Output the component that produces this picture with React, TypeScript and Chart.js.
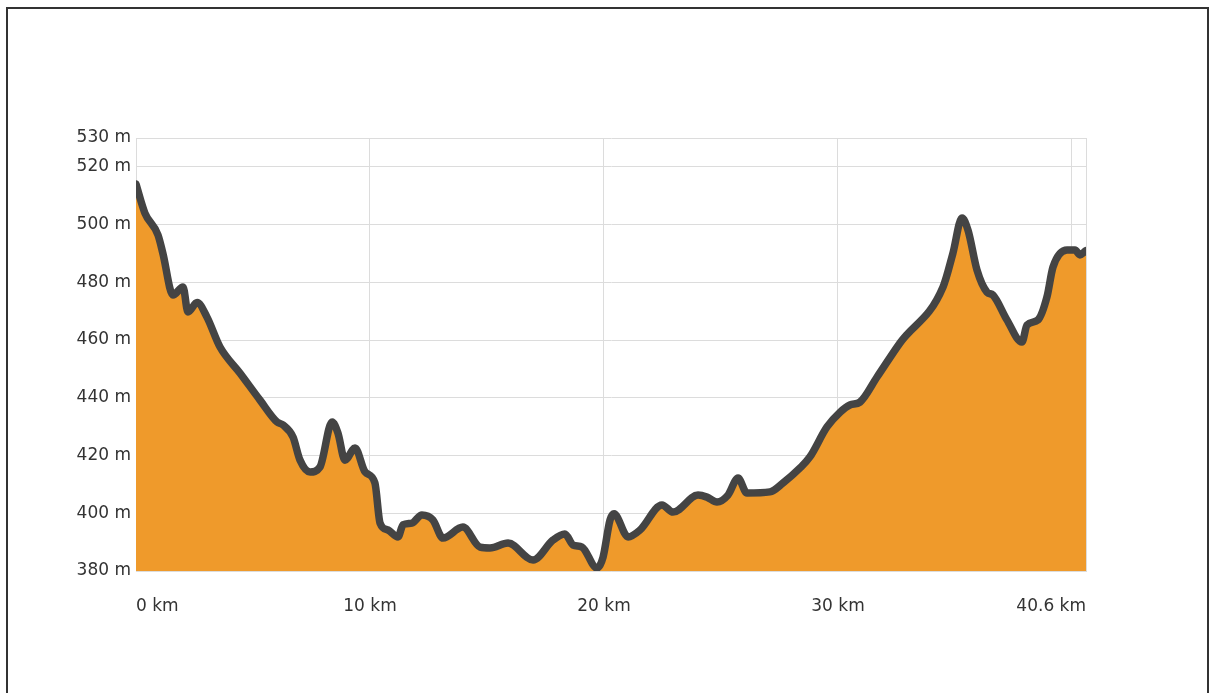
import React, { useEffect, useRef } from "react";
import { Chart, registerables } from "chart.js";

Chart.register(...registerables);

const distanceKm: number[] = [
  0.0, 0.38, 0.94, 1.15, 1.58, 2.01, 2.22, 2.61, 3.03, 3.59, 4.44, 5.3, 6.03, 6.28, 6.71, 7.01,
  7.44, 7.86, 8.38, 8.63, 8.93, 9.36, 9.79, 10.21, 10.43, 10.77, 11.2, 11.41, 11.79, 12.22, 12.69,
  13.12, 13.97, 14.7, 15.13, 15.9, 16.97, 17.82, 18.33, 18.68, 19.06, 19.7, 19.96, 20.26, 20.43,
  21.03, 21.54, 22.48, 22.95, 24.02, 24.4, 24.83, 25.3, 25.73, 26.11, 27.09, 27.65, 28.38, 28.8,
  29.53, 30.09, 30.51, 30.94, 31.67, 32.65, 34.49, 34.91, 35.3, 35.56, 35.94, 36.37, 36.62, 37.22,
  37.86, 38.08, 38.55, 38.93, 39.19, 39.79, 40.13, 40.34, 40.6,
];

const elevationM: number[] = [
  514, 504, 496.4, 490, 475.6, 478.4, 469.7, 473, 468, 457.6, 448.6, 439.2, 431.6, 430.6, 426.4, 418.4,
  414.3, 416, 431.6, 427.8, 418.4, 422.6, 414.3, 410.5, 396.6, 394.2, 391.8, 396, 396.6, 399.4, 397.7,
  391.4, 395.2, 388.3, 388, 389.7, 383.8, 390.7, 392.8, 389, 388.3, 381, 384.8, 397.7, 399.8,
  391.8, 394.2, 402.9, 400.4, 406.3, 405.6, 403.9, 406.3, 412.2, 407, 407.4, 410.5, 415.7, 419.5,
  429.9, 435, 437.5, 438.5, 447.2, 459, 478.4, 490, 502.3, 498, 484.3, 476.6, 475.6, 467,
  459.3, 465.2, 467, 474.9, 485.3, 491.2, 491.2, 489.5, 491,
];

const xTickValues: number[] = [0, 10, 20, 30, 40, 40.6];
const xTickLabels: string[] = ["0 km", "10 km", "20 km", "30 km", "", "40.6 km"];
const yTickValues: number[] = [380, 400, 420, 440, 460, 480, 500, 520, 530];

export default function App() {
  const canvasRef = useRef<HTMLCanvasElement | null>(null);

  useEffect(() => {
    const canvas = canvasRef.current;
    if (!canvas) return;
    const font = { family: "'DejaVu Sans', Verdana, sans-serif", size: 17 };
    const chart = new Chart(canvas, {
      type: "line",
      data: {
        datasets: [
          {
            data: distanceKm.map((x, i) => ({ x, y: elevationM[i] })),
            borderColor: "#444444",
            backgroundColor: "#ef9a2b",
            borderWidth: 7.5,
            fill: "start",
            pointRadius: 0,
            cubicInterpolationMode: "monotone",
            borderJoinStyle: "round",
            borderCapStyle: "round",
          },
        ],
      },
      options: {
        animation: false,
        responsive: false,
        maintainAspectRatio: false,
        layout: { padding: { left: 0, top: 138, right: 124, bottom: 0 } },
        plugins: { legend: { display: false }, tooltip: { enabled: false } },
        scales: {
          x: {
            type: "linear",
            min: 0,
            max: 40.6,
            afterBuildTicks: (scale: any) => {
              scale.ticks = xTickValues.map((v) => ({ value: v }));
            },
            afterFit: (scale: any) => {
              scale.height = 122;
            },
            grid: { color: "#dcdcdc", lineWidth: 1, drawTicks: false },
            border: { display: true, color: "#dcdcdc" },
            ticks: {
              align: "inner",
              padding: 25,
              color: "#333",
              font,
              maxRotation: 0,
              autoSkip: false,
              callback: (v: any) => {
                const i = xTickValues.indexOf(Number(v));
                return i >= 0 ? xTickLabels[i] : "";
              },
            },
          },
          y: {
            type: "linear",
            min: 380,
            max: 530,
            afterBuildTicks: (scale: any) => {
              scale.ticks = yTickValues.map((v) => ({ value: v }));
            },
            afterFit: (scale: any) => {
              scale.width = 136;
            },
            grid: { color: "#dcdcdc", lineWidth: 1, drawTicks: false },
            border: { display: true, color: "#dcdcdc" },
            ticks: {
              padding: 5,
              color: "#333",
              font,
              autoSkip: false,
              callback: (v: any) => `${v} m`,
            },
          },
        },
      },
    });
    return () => chart.destroy();
  }, []);

  return (
    <div style={{ position: "absolute", left: 0, top: 0, width: 1210, height: 693, overflow: "hidden", background: "#fff" }}>
      <div
        style={{
          position: "absolute",
          left: 6,
          top: 7,
          width: 1203,
          height: 720,
          border: "2px solid #333",
          boxSizing: "border-box",
        }}
      />
      <canvas
        ref={canvasRef}
        width={1210}
        height={693}
        style={{ position: "absolute", left: 0, top: 0, width: 1210, height: 693 }}
      />
    </div>
  );
}
